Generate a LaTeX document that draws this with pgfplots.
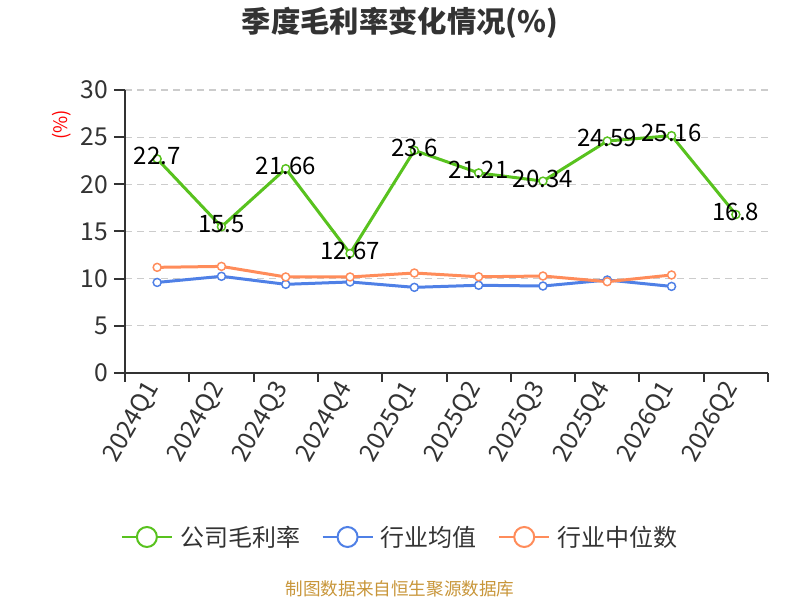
\documentclass[border=0pt]{standalone}
\usepackage{fontspec}
\setmainfont{Noto Sans CJK SC}
\usepackage{pgfplots}
\pgfplotsset{compat=1.18}
\definecolor{cgreen}{HTML}{58C21E}
\definecolor{cblue}{HTML}{4F80E6}
\definecolor{corange}{HTML}{FF8C5A}
\definecolor{cgrid}{HTML}{CCCCCC}
\definecolor{caxis}{HTML}{333333}
\definecolor{csrc}{HTML}{C8963A}
\begin{document}
\begin{tikzpicture}
\path[use as bounding box] (0,0) rectangle (600pt,450pt);
\node[font=\fontsize{22pt}{24pt}\selectfont\bfseries, text=caxis] at (300pt,433pt) {季度毛利率变化情况(\%)};
\node[font=\fontsize{13.2pt}{15pt}\selectfont, text=csrc] at (300pt,8.5pt) {制图数据来自恒生聚源数据库};
\begin{axis}[
  at={(93.75pt,170.25pt)}, anchor=south west,
  scale only axis, width=482.25pt, height=212.25pt,
  xmin=-0.5, xmax=9.5, ymin=0, ymax=30,
  ytick={0,5,...,30},
  xtick={0,...,9},
  xticklabels={2024Q1,2024Q2,2024Q3,2024Q4,2025Q1,2025Q2,2025Q3,2025Q4,2026Q1,2026Q2},
  minor xtick={-0.5,0.5,...,9.5},
  major x tick style={draw=none},
  tick align=outside,
  major tick length=8.25pt,
  minor tick length=6.75pt,
  tick style={draw=caxis, line width=1.5pt},
  axis x line*=bottom, axis y line*=left,
  axis line style={draw=caxis, line width=1.5pt, -},
  ymajorgrids,
  major grid style={draw=cgrid, line width=0.9pt, dash pattern=on 5.25pt off 3.75pt},
  /pgf/number format/assume math mode=true,
  tick label style={font=\fontsize{18.5pt}{20pt}\selectfont, text=caxis},
  xticklabel style={font=\fontsize{18.5pt}{20pt}\selectfont, rotate=60, anchor=east, yshift=2pt, xshift=2pt},
  yticklabel style={xshift=-1pt},
  clip=false,
  legend style={at={(-0.013,-0.5795)}, anchor=west, draw=none, fill=none,
    legend columns=3, font=\fontsize{18pt}{20pt}\selectfont, text=caxis,
    nodes={inner sep=0pt},
    /tikz/every odd column/.append style={column sep=5.5pt},
    /tikz/every even column/.append style={column sep=16pt}},
  legend image code/.code={
    \draw[#1, mark=none, line width=1.5pt] (0pt,0pt) -- (37.5pt,0pt);
    \draw[#1, mark=none, line width=1.5pt, fill=white] (18.75pt,0pt) circle (7.5pt);
  },
  every axis plot/.append style={line width=2.25pt},
]
\addplot[cgreen, mark=*, mark size=3pt, mark options={fill=white, draw=cgreen, line width=1.1pt},
  nodes near coords, point meta=explicit symbolic,
  every node near coord/.append style={anchor=center, yshift=2pt, text=black, font=\fontsize{18pt}{20pt}\selectfont}]
coordinates {(0,22.7)[22.7] (1,15.5)[15.5] (2,21.66)[21.66] (3,12.67)[12.67] (4,23.6)[23.6] (5,21.21)[21.21] (6,20.34)[20.34] (7,24.59)[24.59] (8,25.16)[25.16] (9,16.8)[16.8]};
\addlegendentry{公司毛利率}
\addplot[cblue, mark=*, mark size=3pt, mark options={fill=white, draw=cblue, line width=1.1pt}]
coordinates {(0,9.6) (1,10.25) (2,9.4) (3,9.65) (4,9.08) (5,9.3) (6,9.22) (7,9.86) (8,9.18)};
\addlegendentry{行业均值}
\addplot[corange, mark=*, mark size=3pt, mark options={fill=white, draw=corange, line width=1.1pt}]
coordinates {(0,11.2) (1,11.3) (2,10.18) (3,10.18) (4,10.6) (5,10.2) (6,10.28) (7,9.68) (8,10.39)};
\addlegendentry{行业中位数}
\node[rotate=90, text=red, font=\fontsize{14pt}{16pt}\selectfont] at (rel axis cs:-0.098,0.876) {(\%)};
\end{axis}
\end{tikzpicture}
\end{document}
